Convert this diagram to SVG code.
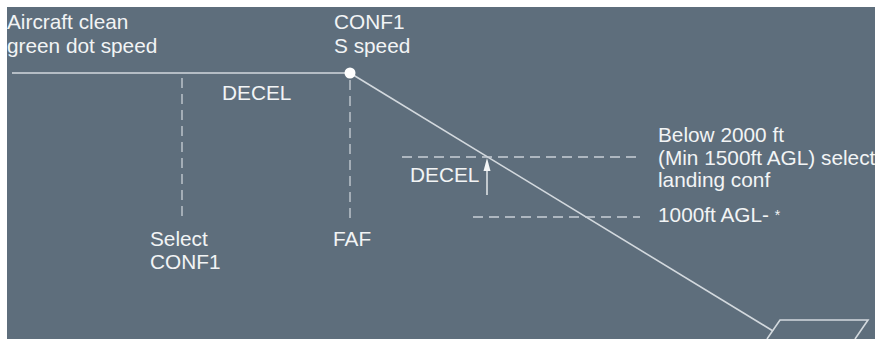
<svg xmlns="http://www.w3.org/2000/svg" width="875" height="339" viewBox="0 0 875 339">
<style>
text{font-family:"Liberation Sans",Arial,sans-serif;font-size:20.8px;fill:#f2f4f5}
.ln{stroke:#d3d9de;stroke-width:1.6;fill:none}
.dash{stroke:#c9d0d6;stroke-width:1.3;fill:none;stroke-dasharray:10 6}
.star{font-size:14px}
</style>
<rect width="875" height="339" fill="#ffffff"/>
<rect x="7" y="7" width="868" height="332" fill="#5e6e7c"/>
<g id="connectors">
<line class="ln" x1="12" y1="73" x2="350" y2="73"/>
<line class="ln" x1="350" y1="73" x2="773" y2="331"/>
<line class="dash" x1="182" y1="78" x2="182" y2="222"/>
<line class="dash" x1="350" y1="80" x2="350" y2="222"/>
<line class="dash" x1="402" y1="157" x2="640" y2="157"/>
<line class="dash" x1="473" y1="217" x2="640" y2="217"/>
<line stroke="#eef1f3" stroke-width="1.4" x1="487" y1="168" x2="487" y2="195"/>
<polygon points="487,158 483.5,171 490.5,171" fill="#f4f6f7"/>
</g>
<g id="runway">
<polyline class="ln" points="767,339 780,320 868,320 855,339"/>
</g>
<g id="point-s">
<circle cx="350" cy="73" r="5.5" fill="#ffffff"/>
</g>
<g id="label-green-dot">
<text x="7" y="29">Aircraft clean</text>
<text x="7" y="53">green dot speed</text>
</g>
<g id="label-conf1">
<text x="334" y="29">CONF1</text>
<text x="334" y="53">S speed</text>
</g>
<g id="label-decel1">
<text x="222" y="100">DECEL</text>
</g>
<g id="label-select">
<text x="150" y="246">Select</text>
<text x="150" y="269">CONF1</text>
</g>
<g id="label-faf">
<text x="333" y="246">FAF</text>
</g>
<g id="label-decel2">
<text x="410" y="182">DECEL</text>
</g>
<g id="label-below">
<text x="658" y="142">Below 2000 ft</text>
<text x="658" y="165">(Min 1500ft AGL) select</text>
<text x="658" y="187">landing conf</text>
</g>
<g id="label-1000">
<text x="658" y="222">1000ft AGL-  <tspan class="star" dy="-2">*</tspan></text>
</g>
</svg>
